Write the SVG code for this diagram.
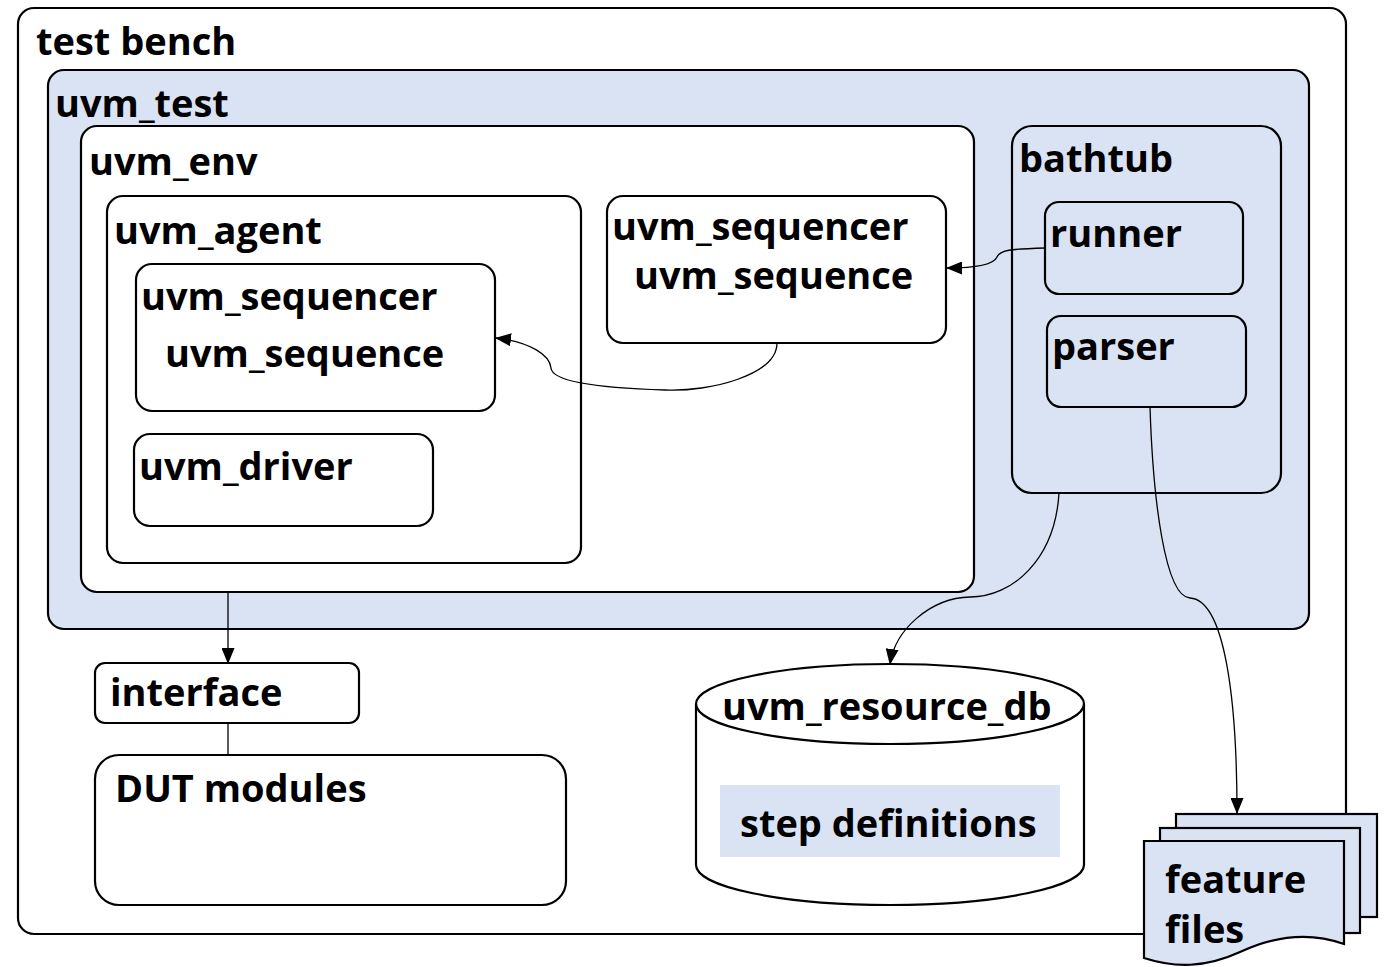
<svg xmlns="http://www.w3.org/2000/svg" width="1386" height="967" viewBox="0 0 1386 967">
<style>
.b{stroke:#000;stroke-width:2.2;}
.w{fill:#fff;}
.l{fill:#dae3f3;}
text{font-family:"Open Sans","Noto Sans","DejaVu Sans",sans-serif;font-weight:700;font-size:38px;fill:#000;}
.c{fill:none;stroke:#000;stroke-width:1.3;}
</style>
<defs>
<marker id="a" viewBox="0 0 16 13" refX="15" refY="6.5" markerWidth="16" markerHeight="13" markerUnits="userSpaceOnUse" orient="auto">
<path d="M0,0 L16,6.5 L0,13 Z" fill="#000"/>
</marker>
</defs>
<g id="testbench"><rect x="18" y="8" width="1328" height="926" rx="16" class="b w"/><text x="36" y="55">test bench</text></g>
<g id="uvm_test"><rect x="48" y="70" width="1261" height="559" rx="16" class="b l"/><text x="55" y="117">uvm_test</text></g>
<g id="uvm_env"><rect x="81" y="126" width="893" height="466" rx="16" class="b w"/><text x="89" y="175">uvm_env</text></g>
<g id="uvm_agent"><rect x="107" y="196" width="474" height="367" rx="16" class="b w"/><text x="114" y="244">uvm_agent</text></g>
<g id="agent_sequencer"><rect x="136" y="264" width="359" height="147" rx="16" class="b w"/><text x="141" y="310">uvm_sequencer</text><text x="165" y="367">uvm_sequence</text></g>
<g id="uvm_driver"><rect x="134" y="434" width="299" height="92" rx="16" class="b w"/><text x="139" y="480">uvm_driver</text></g>
<g id="env_sequencer"><rect x="607" y="196" width="339" height="147" rx="16" class="b w"/><text x="612" y="240">uvm_sequencer</text><text x="634" y="289">uvm_sequence</text></g>
<g id="bathtub"><rect x="1012" y="126" width="269" height="367" rx="20" class="b l"/><text x="1019" y="172">bathtub</text></g>
<g id="runner"><rect x="1045" y="202" width="198" height="92" rx="14" class="b l"/><text x="1050" y="247">runner</text></g>
<g id="parser"><rect x="1047" y="316" width="199" height="91" rx="14" class="b l"/><text x="1052" y="360">parser</text></g>
<g id="interface"><rect x="95" y="663" width="264" height="60" rx="10" class="b w"/><text x="110" y="706">interface</text></g>
<g id="dut"><rect x="95" y="755" width="471" height="150" rx="24" class="b w"/><text x="115" y="802">DUT modules</text></g>
<g id="resource_db">
<path d="M696,704 A194,40 0 0 1 1084,704 V865 A194,40 0 0 1 696,865 Z" class="b w"/>
<path d="M696,704 A194,40 0 0 0 1084,704" fill="none" class="b"/>
<text x="722" y="720">uvm_resource_db</text>
<rect x="720" y="785" width="340" height="72" class="l"/>
<text x="740" y="837">step definitions</text>
</g>
<g id="feature_files">
<rect x="1176" y="814" width="201" height="103" class="b l"/>
<rect x="1160" y="828" width="200" height="105" class="b l"/>
<path d="M1144,841 H1344 V944 C1305,930 1270,938 1240,952 C1205,968 1175,968 1144,958 Z" class="b l"/>
<text x="1165" y="893">feature</text>
<text x="1165" y="943">files</text>
</g>
<g id="connectors">
<path d="M1045,248 C1010,249 1000,250 997,257 C994,264 980,268 947,268" class="c" marker-end="url(#a)"/>
<path d="M777,343 C777,375 710,392 665,390 C600,388 552,382 551,368 C550,355 530,342 496,338" class="c" marker-end="url(#a)"/>
<path d="M1059,493 C1055,560 1012,597 970,597 C930,598 895,630 890,664" class="c" marker-end="url(#a)"/>
<path d="M1150,407 C1153,500 1165,597 1190,598 C1225,600 1237,700 1237,813" class="c" marker-end="url(#a)"/>
<path d="M228,592 V663" class="c" marker-end="url(#a)"/>
<path d="M228,723 V755" class="c" stroke="#444"/>
</g>
</svg>
